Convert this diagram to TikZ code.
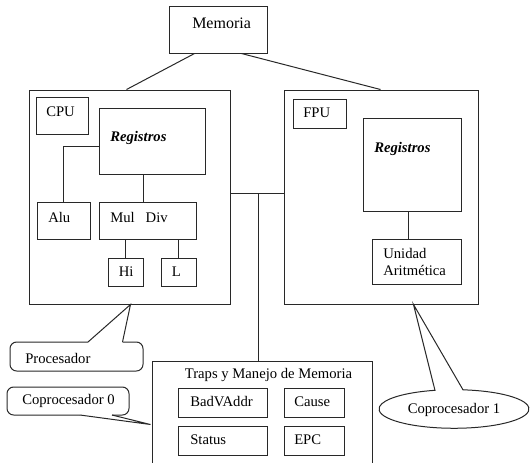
\documentclass[tikz,border=0pt]{standalone}
\usepackage{fontspec}
\setmainfont{Liberation Serif}
\usepackage{tikz}
\usetikzlibrary{calc}
\usetikzlibrary{fit}
\definecolor{trazo}{RGB}{40, 40, 40}

\tikzset{
  caja/.style={draw=trazo, line width=0.75pt, inner sep=0pt},
  texto/.style={inner sep=0pt, anchor=west, font=\fontsize{11}{12.75}\selectfont},
  linea/.style={draw=trazo, line width=0.75pt}
}

\begin{document}
\begin{tikzpicture}[x=0.75pt, y=-0.75pt]
            \useasboundingbox (0,0) rectangle (531,462);
            \clip (0,0) rectangle (531,462);
            % cajas
            \node[caja, fit={(169,  6) (267, 53)}] (memoria) {};
            \node[caja, fit={( 29, 90) (230,304)}] (cpu)     {};
            \node[caja, fit={( 36, 97) ( 88,134)}] (cpuLbl)  {};
            \node[caja, fit={( 99,108) (205,174)}] (regsC)   {};
            \node[caja, fit={( 37,202) ( 90,239)}] (alu)     {};
            \node[caja, fit={( 99,202) (196,239)}] (muldiv)  {};
            \node[caja, fit={(108,258) (143,286)}] (hi)      {};
            \node[caja, fit={(161,258) (196,286)}] (lo)      {};
            \node[caja, fit={(284, 90) (478,304)}] (fpu)     {};
            \node[caja, fit={(293, 99) (346,128)}] (fpuLbl)  {};
            \node[caja, fit={(363,118) (461,211)}] (regsF)   {};
            \node[caja, fit={(372,239) (461,284)}] (unidad)  {};
            \node[caja, fit={(152,361) (372,475)}] (traps)   {};
            \node[caja, fit={(178,388) (267,417)}] (badv)    {};
            \node[caja, fit={(284,388) (344,417)}] (cause)   {};
            \node[caja, fit={(178,426) (267,455)}] (status)  {};
            \node[caja, fit={(284,426) (344,455)}] (epc)     {};
            % textos
            \node[texto, font=\fontsize{12}{14}\selectfont] (memoriaT) at (192, 23) {Memoria};
            \node[texto] (cpuT)    at ( 46,112) {CPU};
            \node[texto] (regsCT)  at (110,138) {\bfseries\itshape Registros};
            \node[texto] (aluT)    at ( 48,217) {Alu};
            \node[texto] (muldivT) at (110,217) {Mul\enspace\ Div};
            \node[texto] (hiT)     at (118.5,272) {Hi};
            \node[texto] (loT)     at (171.5,272) {L};
            \node[texto] (fpuT)    at (303,113) {FPU};
            \node[texto] (regsFT)  at (374,149) {\bfseries\itshape Registros};
            \node[texto, align=left] (unidadT) at (383,261.5) {Unidad\\Aritmética};
            \node[texto, anchor=center] (trapsT) at (268.5,375) {Traps y Manejo de Memoria};
            \node[texto] (badvT)   at (190,402) {BadVAddr};
            \node[texto] (causeT)  at (294,402) {Cause};
            \node[texto] (statusT) at (190,440) {Status};
            \node[texto] (epcT)    at (294,440) {EPC};
            \node[texto] (procT)   at ( 25,358) {Procesador};
            \node[texto] (cop0T)   at ( 22,401) {Coprocesador 0};
            \node[texto, anchor=center] (cop1T) at (454,410) {Coprocesador 1};
            % conexiones
            \draw[linea] ($(memoria.south west)+(26,0)$) -- ($(cpu.north west)+(98,0)$);
            \draw[linea] ($(memoria.south east)+(-26,0)$) -- ($(fpu.north west)+(97,0)$);
            \coordinate (bus) at (258,193);
            \draw[linea] (bus -| cpu.east) -- (bus -| fpu.west);
            \draw[linea] (bus) -- (bus |- traps.north);
            \draw[linea] ($(regsC.west)+(0,5)$) -| (alu.north);
            \draw[linea] ($(regsC.south)+(-9,0)$) coordinate (r1) -- (r1 |- muldiv.north);
            \draw[linea] (hi.north) -- (hi.north |- muldiv.south);
            \draw[linea] (lo.north) -- (lo.north |- muldiv.south);
            \draw[linea] ($(regsF.south)+(-4,0)$) coordinate (r2) -- (r2 |- unidad.north);
            % llamadas
            \draw[linea, rounded corners=5] (122.5,342) -- (143,342) -- (143,371) -- (10,371) -- (10,342) -- (88,342);
            \draw[linea] (88,342) -- ($(cpu.south west)+(102,0)$) -- (122.5,342);
            \draw[linea, rounded corners=5] (112,415) -- (129,415) -- (129,387) -- (7,387) -- (7,415) -- (80,415);
            \draw[linea] (80,415) -- ($(traps.north west)+(-1,64)$) -- (112,415);
            \draw[linea] ($(fpu.south west)+(130,0)$) -- (463,389.8)
                 arc[start angle=-83.1, end angle=255.3, x radius=75, y radius=19.3] -- cycle;
\end{tikzpicture}
\end{document}
